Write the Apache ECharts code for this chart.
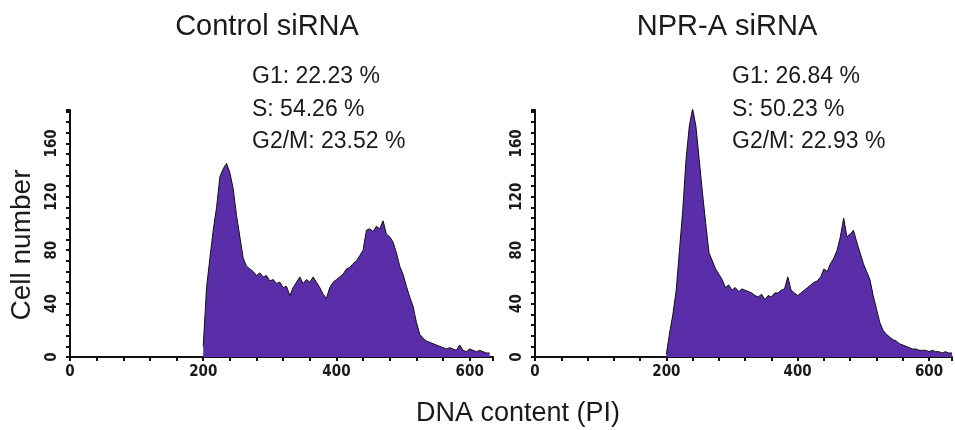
<!DOCTYPE html>
<html>
<head>
<meta charset="utf-8">
<script src="https://cdn.jsdelivr.net/npm/echarts@6/dist/echarts.min.js"></script>
<style>
  html, body { margin: 0; padding: 0; background: #fff; }
  #chart { width: 955px; height: 430px; }
</style>
</head>
<body>
<div id="chart"></div>
<script>
// histogram bins: DNA content channel (start of each 5-channel bin)
const binStart = 200;
const binWidth = 5;

// Control siRNA cell counts, bins 200..630
const controlCounts = [
  8, 52, 74, 95, 112, 135, 141, 145, 138, 126,
  106, 90, 74, 68, 66, 64, 61, 63, 60, 61,
  57, 58, 55, 56, 52, 53, 46, 52, 56, 60,
  55, 58, 56, 60, 56, 52, 47, 44, 52, 56,
  58, 60, 62, 66, 67, 70, 72, 76, 80, 95,
  96, 94, 98, 96, 102, 92, 90, 86, 78, 68,
  62, 53, 45, 38, 26, 17, 14, 12, 11, 10,
  9, 8, 7, 6, 7, 6, 5, 9, 5, 4,
  6, 5, 4, 5, 4, 3, 3
];

// NPR-A siRNA cell counts, bins 200..635
const nprCounts = [
  2, 18, 32, 50, 80, 110, 148, 173, 186, 173,
  148, 123, 100, 78, 72, 66, 62, 58, 52, 54,
  50, 52, 49, 51, 50, 49, 48, 46, 45, 47,
  43, 46, 45, 48, 48, 50, 51, 60, 50, 48,
  46, 48, 50, 52, 54, 56, 57, 60, 66, 64,
  70, 74, 80, 90, 104, 90, 92, 95, 86, 78,
  70, 64, 58, 46, 36, 26, 20, 17, 15, 13,
  12, 10, 9, 8, 7, 6, 6, 5, 5, 5,
  4, 5, 4, 4, 3, 4, 3, 3
];

const panelTitles = ["Control siRNA", "NPR-A siRNA"];
const controlPhases = ["G1: 22.23 %", "S: 54.26 %", "G2/M: 23.52 %"];
const nprPhases = ["G1: 26.84 %", "S: 50.23 %", "G2/M: 22.93 %"];
const xLabelStep = 200;
const yLabelStep = 40;

const toPairs = (counts) => counts.map((c, i) => [binStart + i * binWidth, c]);

const fill = "#5a2ea8";
const tickFont = {
  fontFamily: "'Liberation Sans Narrow', 'DejaVu Sans Condensed', sans-serif",
  fontWeight: "bold",
  fontSize: 15,
  color: "#1a1a1a"
};

const xAxisFor = (gridIndex) => ({
  type: "value",
  gridIndex: gridIndex,
  min: 0,
  max: 635,
  interval: 40,
  axisLine: { lineStyle: { color: "#111", width: 2 } },
  axisTick: { show: true, length: 4, lineStyle: { color: "#111", width: 2 } },
  splitLine: { show: false },
  axisLabel: Object.assign({}, tickFont, {
    margin: 8,
    formatter: (v) => (v % xLabelStep === 0 ? String(v) : "")
  })
});

const yAxisFor = (gridIndex) => ({
  type: "value",
  gridIndex: gridIndex,
  min: 0,
  max: 185,
  interval: 8,
  axisLine: { show: true, lineStyle: { color: "#111", width: 2 } },
  axisTick: { show: true, length: 4, lineStyle: { color: "#111", width: 2 } },
  splitLine: { show: false },
  axisLabel: Object.assign({}, tickFont, {
    rotate: 90,
    margin: 10,
    formatter: (v) => (v % yLabelStep === 0 ? String(v) : "")
  })
});

const seriesFor = (gridIndex, counts) => ({
  type: "line",
  xAxisIndex: gridIndex,
  yAxisIndex: gridIndex,
  symbol: "none",
  data: toPairs(counts),
  lineStyle: { color: "#111", width: 1 },
  areaStyle: { color: fill, opacity: 1 },
  silent: true
});

const textEl = (text, x, y, size, align) => ({
  type: "text",
  x: x,
  y: y,
  style: {
    text: text,
    font: size + "px 'Liberation Sans', Arial, sans-serif",
    fill: "#1a1a1a",
    textAlign: align || "left",
    textVerticalAlign: "middle"
  }
});

const phaseTexts = (lines, left) =>
  lines.map((t, i) => textEl(t, left, 77 + i * 32.5, 23, "left"));

const chart = echarts.init(document.getElementById("chart"));
chart.setOption({
  animation: false,
  grid: [
    { left: 70, top: 110, width: 423, height: 247 },
    { left: 535, top: 110, width: 418, height: 247 }
  ],
  xAxis: [xAxisFor(0), xAxisFor(1)],
  yAxis: [yAxisFor(0), yAxisFor(1)],
  series: [seriesFor(0, controlCounts), seriesFor(1, nprCounts)],
  graphic: [
    textEl(panelTitles[0], 267, 27, 29, "center"),
    textEl(panelTitles[1], 727, 27, 29, "center"),
    ...phaseTexts(controlPhases, 252),
    ...phaseTexts(nprPhases, 732),
    textEl("DNA content (PI)", 518, 414, 27, "center"),
    Object.assign(textEl("Cell number", 0, 0, 28, "center"), {
      x: 22,
      y: 245,
      rotation: Math.PI / 2
    })
  ]
});
</script>
</body>
</html>
